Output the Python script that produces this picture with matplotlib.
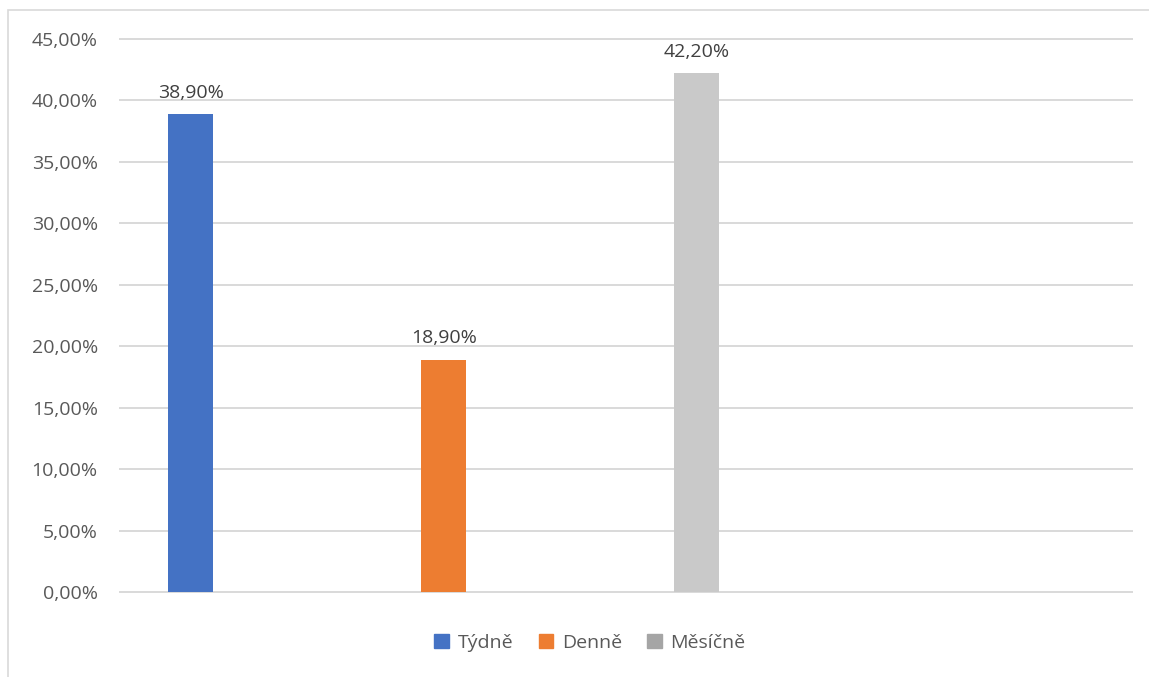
import matplotlib.pyplot as plt
from matplotlib.patches import Rectangle
from matplotlib.ticker import FuncFormatter

# Survey shares per answer
series = ["Týdně", "Denně", "Měsíčně"]
values = [38.9, 18.9, 42.2]
colors = ["#4472C4", "#ED7D31", "#C9C9C9"]
legend_colors = ["#4472C4", "#ED7D31", "#A5A5A5"]

W, H = 1149, 677
fig = plt.figure(figsize=(W / 100, H / 100), dpi=100)
plt.rcParams['font.family'] = ['Open Sans', 'DejaVu Sans']

# chart area frame (runs off the right and bottom edges)
fig.patches.append(Rectangle((8 / W, -0.1), 1.2, 1 - 10 / H + 0.1,
                             transform=fig.transFigure, fill=False,
                             edgecolor="#D9D9D9", linewidth=1.2))

ax = fig.add_axes([120 / W, (H - 592) / H, 1012 / W, 553 / H])

pos = list(range(len(values)))
bars = ax.bar(pos, values, width=0.178, color=colors, zorder=3)
for b, v in zip(bars, values):
    ax.text(b.get_x() + b.get_width() / 2, v + 1.0, f"{v:.2f}%".replace(".", ","),
            ha="center", va="bottom", fontsize=14, color="#404040")

ax.set_xlim(-0.28, 3.72)
ax.set_ylim(0, 45)
ax.set_yticks(range(0, 46, 5))
ax.yaxis.set_major_formatter(FuncFormatter(lambda y, _: f"{y:.2f}%".replace(".", ",")))
ax.tick_params(axis="y", length=0, labelsize=14, labelcolor="#595959", pad=16)
ax.set_xticks([])
ax.grid(axis="y", color="#D9D9D9", linewidth=1.4, zorder=0)
for gl in ax.get_ygridlines():
    gl.set_clip_on(False)
for s in ax.spines.values():
    s.set_visible(False)

handles = [Rectangle((0, 0), 1, 1, color=c) for c in legend_colors]
fig.legend(handles, series, loc="center", bbox_to_anchor=(590 / W, 1 - 643 / H),
           ncol=3, frameon=False, fontsize=14, labelcolor="#595959",
           handlelength=0.75, handleheight=0.75, handletextpad=0.45, columnspacing=1.3)

fig.savefig("out.png", dpi=100)
